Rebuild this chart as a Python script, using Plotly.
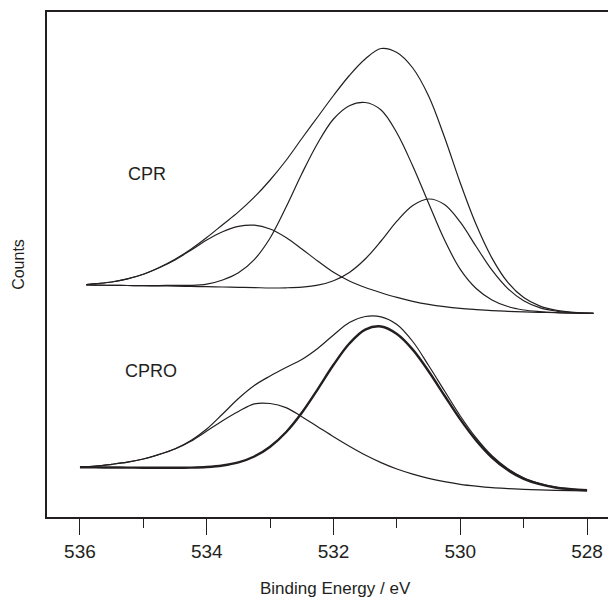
import plotly.graph_objects as go

# ---- CPR (upper spectrum) ----
cpr_be = [535.9, 535.75, 535.5, 535.25, 535.0, 534.75, 534.5, 534.25, 534.0, 533.75, 533.5, 533.25,
          533.0, 532.75, 532.5, 532.25, 532.0, 531.75, 531.5, 531.25, 531.0, 530.75, 530.5, 530.25,
          530.0, 529.75, 529.5, 529.25, 529.0, 528.75, 528.5, 528.25, 528.0, 527.9]
cpr_envelope = [232.3, 233.3, 235.0, 238.2, 242.7, 249.5, 257.8, 267.8, 279.5, 292.3, 305.1, 319.8,
                337.0, 356.5, 378.5, 400.0, 421.5, 441.5, 458.0, 468.5, 464.5, 449.0, 421.0, 380.0,
                334.0, 292.4, 258.9, 234.6, 219.4, 211.1, 206.8, 204.8, 203.9, 203.7]
cpr_peak_531_5 = [232.0, 231.9, 231.7, 231.5, 231.3, 231.4, 231.7, 231.6, 232.8, 237.0, 244.2, 257.4,
                  279.0, 309.7, 343.3, 373.8, 398.0, 411.3, 414.5, 407.0, 384.0, 351.0, 313.8, 277.2,
                  247.6, 228.5, 217.1, 210.5, 207.0, 205.4, 204.5, 204.0, 203.7, 203.7]
cpr_peak_530_5 = [232.0, 231.9, 231.7, 231.5, 231.3, 231.1, 230.9, 230.6, 230.3, 230.0, 229.7, 229.4,
                  229.0, 229.2, 229.9, 231.8, 236.3, 244.6, 258.0, 276.0, 295.8, 311.5, 318.0, 312.5,
                  294.8, 270.5, 246.8, 228.4, 216.3, 209.4, 206.0, 204.5, 203.9, 203.7]
cpr_peak_533_4 = [232.3, 233.3, 235.0, 238.2, 242.7, 249.2, 257.0, 266.8, 277.0, 285.3, 290.6, 291.8,
                  288.0, 279.5, 268.0, 256.0, 244.7, 236.0, 229.5, 224.3, 219.6, 215.7, 212.6, 210.3,
                  208.6, 207.4, 206.4, 205.7, 205.1, 204.7, 204.3, 203.9, 203.7, 203.7]

# ---- CPRO (lower spectrum) ----
cpro_be = [536.0, 535.75, 535.5, 535.25, 535.0, 534.75, 534.5, 534.25, 534.0, 533.75, 533.5, 533.25,
           533.0, 532.75, 532.5, 532.25, 532.0, 531.75, 531.5, 531.25, 531.0, 530.75, 530.5, 530.25,
           530.0, 529.75, 529.5, 529.25, 529.0, 528.75, 528.5, 528.25, 528.0]
cpro_envelope = [49.7, 50.8, 52.7, 54.9, 58.0, 62.6, 68.2, 76.5, 88.0, 103.0, 118.5, 131.5,
                 141.0, 149.5, 157.5, 168.5, 182.0, 194.5, 200.5, 200.2, 192.5, 175.5, 151.5, 126.2,
                 101.0, 79.0, 61.2, 48.3, 39.3, 33.6, 29.8, 27.9, 26.7]
cpro_peak_531_3 = [49.7, 49.6, 49.5, 49.4, 49.3, 49.3, 49.2, 49.4, 50.0, 51.5, 54.6, 60.5,
                   70.3, 84.8, 104.3, 127.7, 152.2, 173.5, 187.4, 190.5, 183.0, 167.4, 145.8, 121.5,
                   97.6, 76.6, 59.5, 46.9, 38.2, 32.8, 29.5, 27.7, 26.7]
cpro_peak_533_1 = [49.7, 50.8, 52.7, 54.9, 58.0, 62.5, 68.0, 75.8, 86.0, 96.3, 105.5, 113.1,
                   113.5, 109.4, 100.3, 90.3, 80.3, 70.8, 62.0, 54.4, 48.0, 42.9, 38.7, 35.3,
                   32.7, 30.8, 29.3, 28.4, 27.7, 27.2, 26.7, 26.3, 26.0]

x_ticks = [536, 534, 532, 530, 528]
x_tick_labels = ["536", "534", "532", "530", "528"]
spectrum_labels = ["CPR", "CPRO"]
x_title = "Binding Energy / eV"
y_title = "Counts"

ink = "#231f20"
FONT = "Liberation Sans, Arial, sans-serif"

fig = go.Figure()
thin = dict(color=ink, width=1.2, shape="spline", smoothing=1.0)
thick = dict(color=ink, width=2.4, shape="spline", smoothing=1.0)

for xs, ys, ln in [
    (cpr_be, cpr_envelope, thin),
    (cpr_be, cpr_peak_531_5, thin),
    (cpr_be, cpr_peak_530_5, thin),
    (cpr_be, cpr_peak_533_4, thin),
    (cpro_be, cpro_envelope, thin),
    (cpro_be, cpro_peak_533_1, thin),
    (cpro_be, cpro_peak_531_3, thick),
]:
    fig.add_trace(go.Scatter(x=xs, y=ys, mode="lines", line=ln, showlegend=False, hoverinfo="skip"))

fig.add_annotation(x=534.94, y=343.5, text=spectrum_labels[0], showarrow=False,
                   font=dict(family=FONT, size=18, color=ink))
fig.add_annotation(x=534.88, y=146, text=spectrum_labels[1], showarrow=False,
                   font=dict(family=FONT, size=18, color=ink))
# x-axis title (centred as in the original, which was cropped on the right)
fig.add_annotation(xref="paper", yref="paper", x=0.515, y=-0.1406, xanchor="center", yanchor="middle",
                   text=x_title, showarrow=False, font=dict(family=FONT, size=17, color=ink))

fig.update_layout(
    width=608, height=601,
    margin=dict(l=47, r=0, t=12, b=84),
    paper_bgcolor="white", plot_bgcolor="white",
    font=dict(family=FONT, color=ink),
    xaxis=dict(
        range=[536.52, 527.67], showgrid=False, zeroline=False, automargin=False,
        showline=True, linecolor=ink, linewidth=2, mirror=True,
        tickmode="array", tickvals=x_ticks, ticktext=x_tick_labels,
        ticks="outside", ticklen=16, tickwidth=1.3, tickcolor=ink,
        tickfont=dict(family=FONT, size=19, color=ink),
        minor=dict(dtick=1, tick0=528, ticks="outside", ticklen=9, tickwidth=1.3, tickcolor=ink, showgrid=False),
    ),
    yaxis=dict(
        range=[0, 505], showgrid=False, zeroline=False, automargin=False,
        showline=True, linecolor=ink, linewidth=2,
        showticklabels=False, ticks="",
        title=dict(text=y_title, font=dict(family=FONT, size=16, color=ink), standoff=16),
    ),
)

fig.write_html("out.html", config={"displayModeBar": False},
               post_script="document.body.style.margin='0';document.body.style.overflow='hidden';")
